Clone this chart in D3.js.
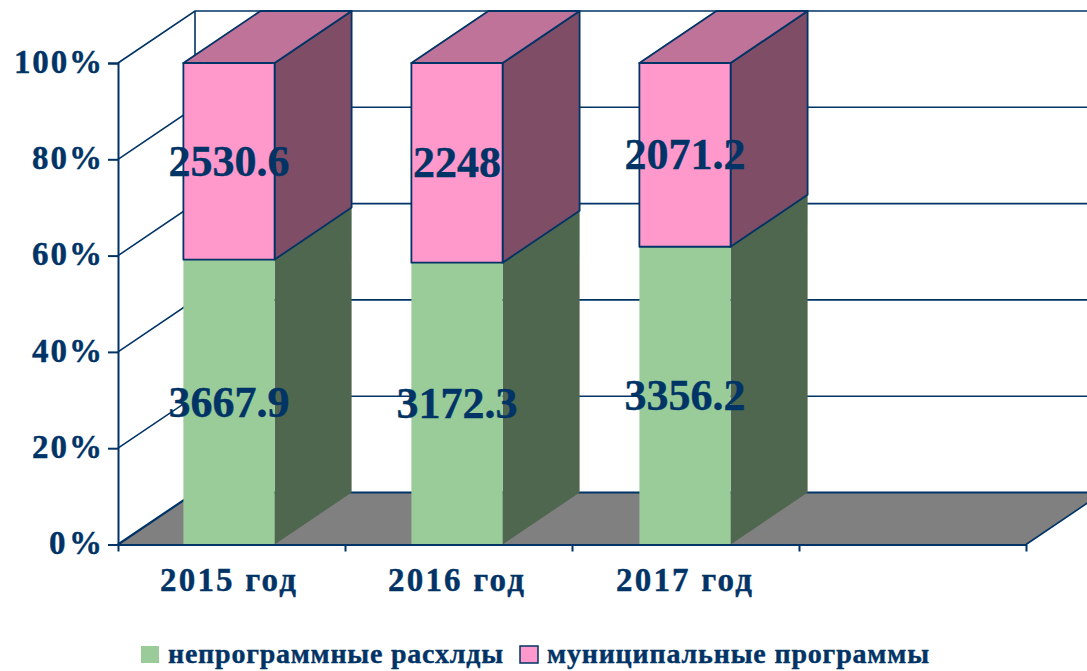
<!DOCTYPE html>
<html>
<head>
<meta charset="utf-8">
<script src="https://d3js.org/d3.v7.min.js"></script>
<style>
    html, body { margin: 0; padding: 0; background: #fff; overflow: hidden; }
    svg { display: block; }
    text { font-family: "Liberation Serif", serif; font-weight: bold; fill: #003366; stroke: #003366; stroke-width: 0.4; }
</style>
</head>
<body>
<svg id="drawing_region"></svg>
<script>
const categories = ["2015 год", "2016 год", "2017 год", ""];
const series_names = ["непрограммные расхлды", "муниципальные программы"];
const nonprogram = [3667.9, 3172.3, 3356.2];
const municipal = [2530.6, 2248, 2071.2];
const percent_ticks = [0, 0.2, 0.4, 0.6, 0.8, 1];

const navy = "#003366";
const width = 1087, height = 671;
const depth = {x: 77, y: -52};

const svg = d3.select("#drawing_region").attr("width", width).attr("height", height);

const yscale = d3.scaleLinear().domain([0, 1]).range([544.5, 63]);
const xedge = d3.scaleLinear().domain([0, 4]).range([118, 1026]);
const xbar = d3.scaleBand().domain(categories).range([115, 1027])
    .paddingInner(0.6).paddingOuter(0.3);

const poly = pts => pts.map(p => p.join(",")).join(" ");

// walls and floor
svg.append("polygon")
    .attr("points", poly([
        [xedge(0), yscale(0)], [xedge(4), yscale(0)],
        [xedge(4) + depth.x, yscale(0) + depth.y], [xedge(0) + depth.x, yscale(0) + depth.y]
    ]))
    .attr("fill", "#808080");

svg.selectAll(".wall")
    .data(percent_ticks)
    .enter()
    .append("polyline")
    .attr("points", d => poly([
        [xedge(0), yscale(d)],
        [xedge(0) + depth.x, yscale(d) + depth.y],
        [xedge(4) + depth.x, yscale(d) + depth.y]
    ]))
    .attr("fill", "none")
    .attr("stroke", navy)
    .attr("stroke-width", d => d === 0 ? 2.2 : 1.6);

svg.append("line")
    .attr("x1", xedge(0) + depth.x).attr("x2", xedge(0) + depth.x)
    .attr("y1", yscale(1) + depth.y).attr("y2", yscale(0) + depth.y)
    .attr("stroke", navy).attr("stroke-width", 1.6);

svg.append("line")
    .attr("x1", xedge(4)).attr("x2", xedge(4) + depth.x)
    .attr("y1", yscale(0)).attr("y2", yscale(0) + depth.y)
    .attr("stroke", navy).attr("stroke-width", 1.6);

// stacked bars
const drawSegment = (i, lo, hi, c) => {
    const x0 = xbar(categories[i]);
    const x1 = x0 + xbar.bandwidth();
    const g = svg.append("g")
        .attr("stroke", c.stroke)
        .attr("stroke-width", 1.8)
        .attr("stroke-linejoin", "round");

    g.append("polygon")
        .attr("points", poly([
            [x1, yscale(lo)], [x1 + depth.x, yscale(lo) + depth.y],
            [x1 + depth.x, yscale(hi) + depth.y], [x1, yscale(hi)]
        ]))
        .attr("fill", c.side);

    if (c.top) {
        g.append("polygon")
            .attr("points", poly([
                [x0, yscale(hi)], [x1, yscale(hi)],
                [x1 + depth.x, yscale(hi) + depth.y], [x0 + depth.x, yscale(hi) + depth.y]
            ]))
            .attr("fill", c.top);
    }

    g.append("rect")
        .attr("x", x0)
        .attr("y", yscale(hi))
        .attr("width", x1 - x0)
        .attr("height", yscale(lo) - yscale(hi))
        .attr("fill", c.front);
};

const green = {front: "#99CC99", side: "#4F664F", stroke: "none"};
const pink = {front: "#FF99CC", side: "#7F4D66", top: "#BF7399", stroke: navy};

nonprogram.forEach((v, i) => {
    const share = v / (v + municipal[i]);
    drawSegment(i, 0, share, green);
    drawSegment(i, share, 1, pink);
});

// axes
const yaxis = d3.axisLeft(yscale)
    .tickValues(percent_ticks)
    .tickFormat(d3.format(".0%"))
    .tickSize(10)
    .tickPadding(6);

const yaxis_group = svg.append("g")
    .attr("transform", `translate(${xedge(0)},0)`)
    .call(yaxis);

yaxis_group.selectAll("path, line").attr("stroke", navy).attr("stroke-width", 2);
yaxis_group.selectAll("text")
    .attr("font-size", 33)
    .attr("textLength", d => d === 1 ? 88 : d === 0 ? 53 : 70)
    .attr("lengthAdjust", "spacing")
    .attr("dy", "0.28em");
yaxis_group.attr("font-family", null).attr("font-size", null);

const xaxis = d3.axisBottom(xedge)
    .tickValues([0, 1, 2, 3, 4])
    .tickFormat("")
    .tickSize(7)
    .tickSizeOuter(0);

const xaxis_group = svg.append("g")
    .attr("transform", `translate(0,${yscale(0)})`)
    .call(xaxis);

xaxis_group.selectAll("path, line").attr("stroke", navy).attr("stroke-width", 2);

svg.selectAll(".cat")
    .data(categories.slice(0, 3))
    .enter()
    .append("text")
    .attr("x", d => xbar(d) + xbar.bandwidth() / 2 - 1)
    .attr("y", 591)
    .attr("text-anchor", "middle")
    .attr("font-size", 33)
    .attr("textLength", 136)
    .attr("lengthAdjust", "spacing")
    .text(d => d);

// value labels
const labels = [];
nonprogram.forEach((v, i) => {
    const share = v / (v + municipal[i]);
    labels.push({i: i, v: v, mid: share / 2});
    labels.push({i: i, v: municipal[i], mid: (share + 1) / 2});
});

svg.selectAll(".value")
    .data(labels)
    .enter()
    .append("text")
    .attr("x", d => xbar(categories[d.i]) + xbar.bandwidth() / 2)
    .attr("y", d => yscale(d.mid))
    .attr("dy", "0.33em")
    .attr("text-anchor", "middle")
    .attr("font-size", 44)
    .text(d => d.v);

// legend
const legend_items = [
    {name: series_names[0], x: 141, fill: "#99CC99", stroke: "none", length: 335},
    {name: series_names[1], x: 520, fill: "#FF99CC", stroke: navy, length: 382}
];

const legend = svg.selectAll(".legend")
    .data(legend_items)
    .enter()
    .append("g")
    .attr("transform", d => `translate(${d.x},646)`);

legend.append("rect")
    .attr("width", 18)
    .attr("height", 17)
    .attr("fill", d => d.fill)
    .attr("stroke", d => d.stroke)
    .attr("stroke-width", 1.5);

legend.append("text")
    .attr("x", 27)
    .attr("y", 17)
    .attr("font-size", 28)
    .attr("textLength", d => d.length)
    .attr("lengthAdjust", "spacing")
    .text(d => d.name);
</script>
</body>
</html>
